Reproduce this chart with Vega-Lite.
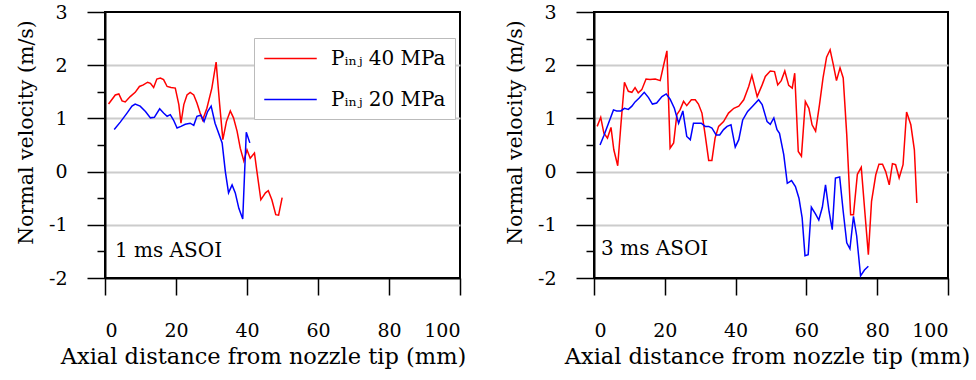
{
  "$schema": "https://vega.github.io/schema/vega-lite/v6.json",
  "background": "white",
  "padding": {"left": 14, "top": 2, "right": 0, "bottom": 0},
  "spacing": 134,
  "bounds": "flush",
  "config": {
    "font": "DejaVu Serif",
    "view": {"stroke": "black", "strokeWidth": 2},
    "axis": {
      "labelFont": "DejaVu Serif",
      "titleFont": "DejaVu Serif",
      "labelFontSize": 19,
      "titleFontSize": 22.5,
      "titleFontWeight": "normal",
      "labelColor": "black",
      "titleColor": "black",
      "domainColor": "black",
      "domainWidth": 2,
      "tickColor": "black",
      "tickWidth": 1.5
    }
  },
  "datasets": {
    "ms1": [
      {"s": "Pᵢₙⱼ 40 MPa", "x": 1.0, "y": 1.27},
      {"s": "Pᵢₙⱼ 40 MPa", "x": 2.9, "y": 1.44},
      {"s": "Pᵢₙⱼ 40 MPa", "x": 3.9, "y": 1.46},
      {"s": "Pᵢₙⱼ 40 MPa", "x": 4.8, "y": 1.33},
      {"s": "Pᵢₙⱼ 40 MPa", "x": 5.7, "y": 1.31},
      {"s": "Pᵢₙⱼ 40 MPa", "x": 7.1, "y": 1.41},
      {"s": "Pᵢₙⱼ 40 MPa", "x": 8.5, "y": 1.49},
      {"s": "Pᵢₙⱼ 40 MPa", "x": 9.7, "y": 1.60},
      {"s": "Pᵢₙⱼ 40 MPa", "x": 10.8, "y": 1.63},
      {"s": "Pᵢₙⱼ 40 MPa", "x": 12.0, "y": 1.68},
      {"s": "Pᵢₙⱼ 40 MPa", "x": 12.8, "y": 1.66},
      {"s": "Pᵢₙⱼ 40 MPa", "x": 13.7, "y": 1.58},
      {"s": "Pᵢₙⱼ 40 MPa", "x": 14.6, "y": 1.74},
      {"s": "Pᵢₙⱼ 40 MPa", "x": 15.6, "y": 1.76},
      {"s": "Pᵢₙⱼ 40 MPa", "x": 16.5, "y": 1.73},
      {"s": "Pᵢₙⱼ 40 MPa", "x": 17.5, "y": 1.60},
      {"s": "Pᵢₙⱼ 40 MPa", "x": 18.6, "y": 1.58},
      {"s": "Pᵢₙⱼ 40 MPa", "x": 19.8, "y": 1.57},
      {"s": "Pᵢₙⱼ 40 MPa", "x": 20.8, "y": 1.26},
      {"s": "Pᵢₙⱼ 40 MPa", "x": 21.4, "y": 0.91},
      {"s": "Pᵢₙⱼ 40 MPa", "x": 22.2, "y": 1.26},
      {"s": "Pᵢₙⱼ 40 MPa", "x": 23.1, "y": 1.44},
      {"s": "Pᵢₙⱼ 40 MPa", "x": 24.0, "y": 1.49},
      {"s": "Pᵢₙⱼ 40 MPa", "x": 25.0, "y": 1.44},
      {"s": "Pᵢₙⱼ 40 MPa", "x": 25.9, "y": 1.29},
      {"s": "Pᵢₙⱼ 40 MPa", "x": 26.8, "y": 1.10},
      {"s": "Pᵢₙⱼ 40 MPa", "x": 27.5, "y": 0.97},
      {"s": "Pᵢₙⱼ 40 MPa", "x": 28.7, "y": 1.19},
      {"s": "Pᵢₙⱼ 40 MPa", "x": 30.1, "y": 1.57},
      {"s": "Pᵢₙⱼ 40 MPa", "x": 31.3, "y": 2.06},
      {"s": "Pᵢₙⱼ 40 MPa", "x": 32.3, "y": 1.26},
      {"s": "Pᵢₙⱼ 40 MPa", "x": 33.2, "y": 0.60},
      {"s": "Pᵢₙⱼ 40 MPa", "x": 34.2, "y": 0.94},
      {"s": "Pᵢₙⱼ 40 MPa", "x": 35.3, "y": 1.14},
      {"s": "Pᵢₙⱼ 40 MPa", "x": 36.2, "y": 1.01},
      {"s": "Pᵢₙⱼ 40 MPa", "x": 37.2, "y": 0.76},
      {"s": "Pᵢₙⱼ 40 MPa", "x": 38.1, "y": 0.44},
      {"s": "Pᵢₙⱼ 40 MPa", "x": 39.1, "y": 0.20},
      {"s": "Pᵢₙⱼ 40 MPa", "x": 40.0, "y": 0.41},
      {"s": "Pᵢₙⱼ 40 MPa", "x": 40.9, "y": 0.25},
      {"s": "Pᵢₙⱼ 40 MPa", "x": 42.1, "y": 0.35},
      {"s": "Pᵢₙⱼ 40 MPa", "x": 42.8, "y": 0.00},
      {"s": "Pᵢₙⱼ 40 MPa", "x": 43.9, "y": -0.53},
      {"s": "Pᵢₙⱼ 40 MPa", "x": 45.2, "y": -0.40},
      {"s": "Pᵢₙⱼ 40 MPa", "x": 46.0, "y": -0.36},
      {"s": "Pᵢₙⱼ 40 MPa", "x": 47.0, "y": -0.53},
      {"s": "Pᵢₙⱼ 40 MPa", "x": 48.1, "y": -0.81},
      {"s": "Pᵢₙⱼ 40 MPa", "x": 48.9, "y": -0.82},
      {"s": "Pᵢₙⱼ 40 MPa", "x": 49.9, "y": -0.49},
      {"s": "Pᵢₙⱼ 20 MPa", "x": 2.6, "y": 0.79},
      {"s": "Pᵢₙⱼ 20 MPa", "x": 4.3, "y": 0.93},
      {"s": "Pᵢₙⱼ 20 MPa", "x": 6.2, "y": 1.10},
      {"s": "Pᵢₙⱼ 20 MPa", "x": 7.6, "y": 1.23},
      {"s": "Pᵢₙⱼ 20 MPa", "x": 8.5, "y": 1.27},
      {"s": "Pᵢₙⱼ 20 MPa", "x": 9.9, "y": 1.23},
      {"s": "Pᵢₙⱼ 20 MPa", "x": 11.4, "y": 1.13},
      {"s": "Pᵢₙⱼ 20 MPa", "x": 12.8, "y": 1.01},
      {"s": "Pᵢₙⱼ 20 MPa", "x": 13.9, "y": 1.02},
      {"s": "Pᵢₙⱼ 20 MPa", "x": 15.4, "y": 1.18},
      {"s": "Pᵢₙⱼ 20 MPa", "x": 16.5, "y": 1.10},
      {"s": "Pᵢₙⱼ 20 MPa", "x": 17.5, "y": 1.04},
      {"s": "Pᵢₙⱼ 20 MPa", "x": 18.4, "y": 1.07},
      {"s": "Pᵢₙⱼ 20 MPa", "x": 19.3, "y": 0.97},
      {"s": "Pᵢₙⱼ 20 MPa", "x": 20.3, "y": 0.82},
      {"s": "Pᵢₙⱼ 20 MPa", "x": 21.4, "y": 0.85},
      {"s": "Pᵢₙⱼ 20 MPa", "x": 22.6, "y": 0.89},
      {"s": "Pᵢₙⱼ 20 MPa", "x": 24.0, "y": 0.91},
      {"s": "Pᵢₙⱼ 20 MPa", "x": 25.0, "y": 0.87},
      {"s": "Pᵢₙⱼ 20 MPa", "x": 25.9, "y": 1.04},
      {"s": "Pᵢₙⱼ 20 MPa", "x": 27.0, "y": 1.06},
      {"s": "Pᵢₙⱼ 20 MPa", "x": 27.9, "y": 0.94},
      {"s": "Pᵢₙⱼ 20 MPa", "x": 28.9, "y": 1.13},
      {"s": "Pᵢₙⱼ 20 MPa", "x": 29.9, "y": 1.23},
      {"s": "Pᵢₙⱼ 20 MPa", "x": 31.0, "y": 0.91},
      {"s": "Pᵢₙⱼ 20 MPa", "x": 33.0, "y": 0.54},
      {"s": "Pᵢₙⱼ 20 MPa", "x": 33.9, "y": 0.00},
      {"s": "Pᵢₙⱼ 20 MPa", "x": 34.8, "y": -0.40},
      {"s": "Pᵢₙⱼ 20 MPa", "x": 35.8, "y": -0.25},
      {"s": "Pᵢₙⱼ 20 MPa", "x": 36.7, "y": -0.40},
      {"s": "Pᵢₙⱼ 20 MPa", "x": 37.7, "y": -0.69},
      {"s": "Pᵢₙⱼ 20 MPa", "x": 38.8, "y": -0.89},
      {"s": "Pᵢₙⱼ 20 MPa", "x": 39.3, "y": -0.06},
      {"s": "Pᵢₙⱼ 20 MPa", "x": 39.8, "y": 0.74},
      {"s": "Pᵢₙⱼ 20 MPa", "x": 40.8, "y": 0.54}
    ],
    "ms3": [
      {"s": "Pᵢₙⱼ 40 MPa", "x": 0.9, "y": 0.85},
      {"s": "Pᵢₙⱼ 40 MPa", "x": 1.9, "y": 1.02},
      {"s": "Pᵢₙⱼ 40 MPa", "x": 2.8, "y": 0.72},
      {"s": "Pᵢₙⱼ 40 MPa", "x": 3.8, "y": 0.63},
      {"s": "Pᵢₙⱼ 40 MPa", "x": 4.8, "y": 0.83},
      {"s": "Pᵢₙⱼ 40 MPa", "x": 5.6, "y": 0.41},
      {"s": "Pᵢₙⱼ 40 MPa", "x": 6.7, "y": 0.11},
      {"s": "Pᵢₙⱼ 40 MPa", "x": 7.6, "y": 0.88},
      {"s": "Pᵢₙⱼ 40 MPa", "x": 8.6, "y": 1.68},
      {"s": "Pᵢₙⱼ 40 MPa", "x": 9.7, "y": 1.51},
      {"s": "Pᵢₙⱼ 40 MPa", "x": 10.7, "y": 1.49},
      {"s": "Pᵢₙⱼ 40 MPa", "x": 11.6, "y": 1.58},
      {"s": "Pᵢₙⱼ 40 MPa", "x": 12.5, "y": 1.48},
      {"s": "Pᵢₙⱼ 40 MPa", "x": 13.5, "y": 1.54},
      {"s": "Pᵢₙⱼ 40 MPa", "x": 14.7, "y": 1.74},
      {"s": "Pᵢₙⱼ 40 MPa", "x": 15.8, "y": 1.73},
      {"s": "Pᵢₙⱼ 40 MPa", "x": 17.3, "y": 1.74},
      {"s": "Pᵢₙⱼ 40 MPa", "x": 18.7, "y": 1.71},
      {"s": "Pᵢₙⱼ 40 MPa", "x": 19.6, "y": 1.98},
      {"s": "Pᵢₙⱼ 40 MPa", "x": 20.6, "y": 2.27},
      {"s": "Pᵢₙⱼ 40 MPa", "x": 21.5, "y": 0.44},
      {"s": "Pᵢₙⱼ 40 MPa", "x": 22.5, "y": 0.54},
      {"s": "Pᵢₙⱼ 40 MPa", "x": 23.4, "y": 1.07},
      {"s": "Pᵢₙⱼ 40 MPa", "x": 24.3, "y": 1.16},
      {"s": "Pᵢₙⱼ 40 MPa", "x": 25.3, "y": 1.32},
      {"s": "Pᵢₙⱼ 40 MPa", "x": 26.2, "y": 1.24},
      {"s": "Pᵢₙⱼ 40 MPa", "x": 27.5, "y": 1.35},
      {"s": "Pᵢₙⱼ 40 MPa", "x": 28.6, "y": 1.35},
      {"s": "Pᵢₙⱼ 40 MPa", "x": 29.5, "y": 1.27},
      {"s": "Pᵢₙⱼ 40 MPa", "x": 30.5, "y": 1.10},
      {"s": "Pᵢₙⱼ 40 MPa", "x": 31.4, "y": 0.69},
      {"s": "Pᵢₙⱼ 40 MPa", "x": 32.4, "y": 0.21},
      {"s": "Pᵢₙⱼ 40 MPa", "x": 33.3, "y": 0.21},
      {"s": "Pᵢₙⱼ 40 MPa", "x": 34.2, "y": 0.63},
      {"s": "Pᵢₙⱼ 40 MPa", "x": 35.2, "y": 0.85},
      {"s": "Pᵢₙⱼ 40 MPa", "x": 36.6, "y": 0.94},
      {"s": "Pᵢₙⱼ 40 MPa", "x": 38.0, "y": 1.10},
      {"s": "Pᵢₙⱼ 40 MPa", "x": 39.5, "y": 1.19},
      {"s": "Pᵢₙⱼ 40 MPa", "x": 40.9, "y": 1.23},
      {"s": "Pᵢₙⱼ 40 MPa", "x": 42.3, "y": 1.35},
      {"s": "Pᵢₙⱼ 40 MPa", "x": 43.7, "y": 1.60},
      {"s": "Pᵢₙⱼ 40 MPa", "x": 44.6, "y": 1.81},
      {"s": "Pᵢₙⱼ 40 MPa", "x": 46.1, "y": 1.41},
      {"s": "Pᵢₙⱼ 40 MPa", "x": 47.5, "y": 1.63},
      {"s": "Pᵢₙⱼ 40 MPa", "x": 48.4, "y": 1.79},
      {"s": "Pᵢₙⱼ 40 MPa", "x": 49.8, "y": 1.89},
      {"s": "Pᵢₙⱼ 40 MPa", "x": 51.0, "y": 1.88},
      {"s": "Pᵢₙⱼ 40 MPa", "x": 51.9, "y": 1.63},
      {"s": "Pᵢₙⱼ 40 MPa", "x": 52.9, "y": 1.71},
      {"s": "Pᵢₙⱼ 40 MPa", "x": 53.9, "y": 1.89},
      {"s": "Pᵢₙⱼ 40 MPa", "x": 55.0, "y": 1.62},
      {"s": "Pᵢₙⱼ 40 MPa", "x": 56.0, "y": 1.57},
      {"s": "Pᵢₙⱼ 40 MPa", "x": 56.7, "y": 1.85},
      {"s": "Pᵢₙⱼ 40 MPa", "x": 57.7, "y": 0.38},
      {"s": "Pᵢₙⱼ 40 MPa", "x": 58.6, "y": 0.29},
      {"s": "Pᵢₙⱼ 40 MPa", "x": 59.7, "y": 1.32},
      {"s": "Pᵢₙⱼ 40 MPa", "x": 60.7, "y": 1.19},
      {"s": "Pᵢₙⱼ 40 MPa", "x": 61.6, "y": 0.88},
      {"s": "Pᵢₙⱼ 40 MPa", "x": 62.6, "y": 0.76},
      {"s": "Pᵢₙⱼ 40 MPa", "x": 63.7, "y": 1.26},
      {"s": "Pᵢₙⱼ 40 MPa", "x": 64.7, "y": 1.76},
      {"s": "Pᵢₙⱼ 40 MPa", "x": 65.7, "y": 2.15},
      {"s": "Pᵢₙⱼ 40 MPa", "x": 66.7, "y": 2.29},
      {"s": "Pᵢₙⱼ 40 MPa", "x": 67.6, "y": 2.01},
      {"s": "Pᵢₙⱼ 40 MPa", "x": 68.5, "y": 1.71},
      {"s": "Pᵢₙⱼ 40 MPa", "x": 69.5, "y": 1.95},
      {"s": "Pᵢₙⱼ 40 MPa", "x": 70.4, "y": 1.76},
      {"s": "Pᵢₙⱼ 40 MPa", "x": 71.4, "y": 0.69},
      {"s": "Pᵢₙⱼ 40 MPa", "x": 72.5, "y": -0.81},
      {"s": "Pᵢₙⱼ 40 MPa", "x": 73.3, "y": -0.81},
      {"s": "Pᵢₙⱼ 40 MPa", "x": 74.4, "y": -0.05},
      {"s": "Pᵢₙⱼ 40 MPa", "x": 75.5, "y": 0.08},
      {"s": "Pᵢₙⱼ 40 MPa", "x": 76.5, "y": -0.75},
      {"s": "Pᵢₙⱼ 40 MPa", "x": 77.5, "y": -1.56},
      {"s": "Pᵢₙⱼ 40 MPa", "x": 78.4, "y": -0.56},
      {"s": "Pᵢₙⱼ 40 MPa", "x": 79.6, "y": -0.06},
      {"s": "Pᵢₙⱼ 40 MPa", "x": 80.5, "y": 0.14},
      {"s": "Pᵢₙⱼ 40 MPa", "x": 81.5, "y": 0.14},
      {"s": "Pᵢₙⱼ 40 MPa", "x": 82.4, "y": 0.00},
      {"s": "Pᵢₙⱼ 40 MPa", "x": 83.4, "y": -0.25},
      {"s": "Pᵢₙⱼ 40 MPa", "x": 84.3, "y": 0.15},
      {"s": "Pᵢₙⱼ 40 MPa", "x": 85.2, "y": 0.13},
      {"s": "Pᵢₙⱼ 40 MPa", "x": 86.2, "y": -0.12},
      {"s": "Pᵢₙⱼ 40 MPa", "x": 87.3, "y": 0.13},
      {"s": "Pᵢₙⱼ 40 MPa", "x": 88.3, "y": 1.12},
      {"s": "Pᵢₙⱼ 40 MPa", "x": 89.5, "y": 0.88},
      {"s": "Pᵢₙⱼ 40 MPa", "x": 90.5, "y": 0.41},
      {"s": "Pᵢₙⱼ 40 MPa", "x": 91.2, "y": -0.59},
      {"s": "Pᵢₙⱼ 20 MPa", "x": 1.7, "y": 0.50},
      {"s": "Pᵢₙⱼ 20 MPa", "x": 2.8, "y": 0.68},
      {"s": "Pᵢₙⱼ 20 MPa", "x": 4.1, "y": 0.91},
      {"s": "Pᵢₙⱼ 20 MPa", "x": 5.5, "y": 1.16},
      {"s": "Pᵢₙⱼ 20 MPa", "x": 6.4, "y": 1.14},
      {"s": "Pᵢₙⱼ 20 MPa", "x": 7.6, "y": 1.14},
      {"s": "Pᵢₙⱼ 20 MPa", "x": 8.6, "y": 1.19},
      {"s": "Pᵢₙⱼ 20 MPa", "x": 9.7, "y": 1.17},
      {"s": "Pᵢₙⱼ 20 MPa", "x": 10.7, "y": 1.23},
      {"s": "Pᵢₙⱼ 20 MPa", "x": 11.6, "y": 1.31},
      {"s": "Pᵢₙⱼ 20 MPa", "x": 12.7, "y": 1.38},
      {"s": "Pᵢₙⱼ 20 MPa", "x": 14.2, "y": 1.49},
      {"s": "Pᵢₙⱼ 20 MPa", "x": 15.4, "y": 1.39},
      {"s": "Pᵢₙⱼ 20 MPa", "x": 16.5, "y": 1.27},
      {"s": "Pᵢₙⱼ 20 MPa", "x": 17.7, "y": 1.29},
      {"s": "Pᵢₙⱼ 20 MPa", "x": 19.2, "y": 1.41},
      {"s": "Pᵢₙⱼ 20 MPa", "x": 20.4, "y": 1.46},
      {"s": "Pᵢₙⱼ 20 MPa", "x": 21.5, "y": 1.36},
      {"s": "Pᵢₙⱼ 20 MPa", "x": 22.7, "y": 1.19},
      {"s": "Pᵢₙⱼ 20 MPa", "x": 23.9, "y": 0.91},
      {"s": "Pᵢₙⱼ 20 MPa", "x": 25.1, "y": 1.14},
      {"s": "Pᵢₙⱼ 20 MPa", "x": 26.2, "y": 0.66},
      {"s": "Pᵢₙⱼ 20 MPa", "x": 27.2, "y": 0.60},
      {"s": "Pᵢₙⱼ 20 MPa", "x": 28.1, "y": 0.91},
      {"s": "Pᵢₙⱼ 20 MPa", "x": 30.3, "y": 0.91},
      {"s": "Pᵢₙⱼ 20 MPa", "x": 31.4, "y": 0.85},
      {"s": "Pᵢₙⱼ 20 MPa", "x": 32.4, "y": 0.85},
      {"s": "Pᵢₙⱼ 20 MPa", "x": 33.3, "y": 0.82},
      {"s": "Pᵢₙⱼ 20 MPa", "x": 34.5, "y": 0.69},
      {"s": "Pᵢₙⱼ 20 MPa", "x": 35.5, "y": 0.69},
      {"s": "Pᵢₙⱼ 20 MPa", "x": 36.6, "y": 0.79},
      {"s": "Pᵢₙⱼ 20 MPa", "x": 37.6, "y": 0.85},
      {"s": "Pᵢₙⱼ 20 MPa", "x": 38.7, "y": 0.88},
      {"s": "Pᵢₙⱼ 20 MPa", "x": 39.9, "y": 0.46},
      {"s": "Pᵢₙⱼ 20 MPa", "x": 40.9, "y": 0.60},
      {"s": "Pᵢₙⱼ 20 MPa", "x": 42.0, "y": 0.97},
      {"s": "Pᵢₙⱼ 20 MPa", "x": 43.4, "y": 1.13},
      {"s": "Pᵢₙⱼ 20 MPa", "x": 44.8, "y": 1.23},
      {"s": "Pᵢₙⱼ 20 MPa", "x": 46.5, "y": 1.35},
      {"s": "Pᵢₙⱼ 20 MPa", "x": 47.5, "y": 1.26},
      {"s": "Pᵢₙⱼ 20 MPa", "x": 48.9, "y": 0.94},
      {"s": "Pᵢₙⱼ 20 MPa", "x": 49.8, "y": 0.89},
      {"s": "Pᵢₙⱼ 20 MPa", "x": 50.8, "y": 1.01},
      {"s": "Pᵢₙⱼ 20 MPa", "x": 51.7, "y": 0.79},
      {"s": "Pᵢₙⱼ 20 MPa", "x": 52.4, "y": 0.72},
      {"s": "Pᵢₙⱼ 20 MPa", "x": 53.6, "y": 0.32},
      {"s": "Pᵢₙⱼ 20 MPa", "x": 54.6, "y": -0.22},
      {"s": "Pᵢₙⱼ 20 MPa", "x": 55.8, "y": -0.17},
      {"s": "Pᵢₙⱼ 20 MPa", "x": 56.9, "y": -0.28},
      {"s": "Pᵢₙⱼ 20 MPa", "x": 57.9, "y": -0.50},
      {"s": "Pᵢₙⱼ 20 MPa", "x": 58.8, "y": -0.87},
      {"s": "Pᵢₙⱼ 20 MPa", "x": 59.6, "y": -1.58},
      {"s": "Pᵢₙⱼ 20 MPa", "x": 60.5, "y": -1.56},
      {"s": "Pᵢₙⱼ 20 MPa", "x": 61.4, "y": -0.67},
      {"s": "Pᵢₙⱼ 20 MPa", "x": 62.6, "y": -0.80},
      {"s": "Pᵢₙⱼ 20 MPa", "x": 63.5, "y": -0.91},
      {"s": "Pᵢₙⱼ 20 MPa", "x": 64.5, "y": -0.67},
      {"s": "Pᵢₙⱼ 20 MPa", "x": 65.4, "y": -0.25},
      {"s": "Pᵢₙⱼ 20 MPa", "x": 66.4, "y": -0.75},
      {"s": "Pᵢₙⱼ 20 MPa", "x": 67.3, "y": -1.09},
      {"s": "Pᵢₙⱼ 20 MPa", "x": 68.2, "y": -0.12},
      {"s": "Pᵢₙⱼ 20 MPa", "x": 69.4, "y": -0.10},
      {"s": "Pᵢₙⱼ 20 MPa", "x": 70.4, "y": -0.75},
      {"s": "Pᵢₙⱼ 20 MPa", "x": 71.4, "y": -1.34},
      {"s": "Pᵢₙⱼ 20 MPa", "x": 72.3, "y": -1.45},
      {"s": "Pᵢₙⱼ 20 MPa", "x": 73.3, "y": -0.84},
      {"s": "Pᵢₙⱼ 20 MPa", "x": 74.2, "y": -1.21},
      {"s": "Pᵢₙⱼ 20 MPa", "x": 75.3, "y": -1.96},
      {"s": "Pᵢₙⱼ 20 MPa", "x": 76.4, "y": -1.85},
      {"s": "Pᵢₙⱼ 20 MPa", "x": 77.5, "y": -1.78}
    ]
  },
  "hconcat": [
    {
      "width": 355,
      "height": 266,
      "resolve": {"axis": {"y": "independent"}},
      "layer": [
        {
          "data": {"name": "ms1"},
          "mark": {"type": "line", "strokeWidth": 1.5},
          "encoding": {
            "x": {
              "field": "x", "type": "quantitative",
              "scale": {"domain": [0, 100], "nice": false},
              "axis": {
                "title": "Axial distance from nozzle tip (mm)",
                "values": [0, 10, 20, 30, 40, 50, 60, 70, 80, 90, 100],
                "labelExpr": "datum.value % 20 === 0 ? datum.label : ''",
                "tickSize": {"condition": {"test": "datum.value % 20 === 0", "value": 17}, "value": 9},
                "labelPadding": 26,
                "titlePadding": 5,
                "titleX": 158,
                "grid": false
              }
            },
            "y": {
              "field": "y", "type": "quantitative",
              "scale": {"domain": [-2, 3], "nice": false},
              "axis": {
                "orient": "left",
                "title": "Normal velocity (m/s)",
                "titleFontSize": 20.5,
                "values": [-2, -1, 0, 1, 2, 3],
                "labelExpr": "replace(datum.label, '−', '-')",
                "tickSize": 18,
                "labelPadding": 20,
                "titleX": -79,
                "titleBaseline": "middle",
                "titleY": 120,
                "grid": true,
                "gridColor": "#cccccc",
                "gridWidth": 2,
                "gridOpacity": {"condition": {"test": "datum.value > -2 && datum.value < 3", "value": 1}, "value": 0}
              }
            },
            "color": {
              "field": "s", "type": "nominal",
              "scale": {"domain": ["Pᵢₙⱼ 40 MPa", "Pᵢₙⱼ 20 MPa"], "range": ["#ff0000", "#0000ff"]},
              "legend": {
                "orient": "none",
                "legendX": 149,
                "legendY": 26,
                "title": null,
                "direction": "vertical",
                "strokeColor": "#bbbbbb",
                "fillColor": "white",
                "padding": 9,
                "symbolType": "M-2.5,0L2.5,0",
                "symbolSize": 441,
                "symbolOffset": 16,
                "symbolStrokeWidth": 1.5,
                "labelFont": "DejaVu Serif",
                "labelFontSize": 20,
                "labelColor": "black",
                "labelOffset": 29,
                "rowPadding": 19
              }
            }
          }
        },
        {
          "data": {"values": [{"label": "1 ms ASOI", "x": 2.8, "y": -1.5}]},
          "mark": {"type": "text", "align": "left", "baseline": "middle", "fontSize": 20, "font": "DejaVu Serif", "color": "black"},
          "encoding": {
            "x": {"field": "x", "type": "quantitative"},
            "y": {
              "field": "y", "type": "quantitative",
              "axis": {
                "orient": "left",
                "title": null,
                "values": [-1.5, -0.5, 0.5, 1.5, 2.5],
                "labels": false,
                "domain": false,
                "grid": false,
                "tickSize": 8
              }
            },
            "text": {"field": "label"}
          }
        }
      ]
    },
    {
      "width": 354,
      "height": 266,
      "resolve": {"axis": {"y": "independent"}},
      "layer": [
        {
          "data": {"name": "ms3"},
          "mark": {"type": "line", "strokeWidth": 1.5},
          "encoding": {
            "x": {
              "field": "x", "type": "quantitative",
              "scale": {"domain": [0, 100], "nice": false},
              "axis": {
                "title": "Axial distance from nozzle tip (mm)",
                "values": [0, 10, 20, 30, 40, 50, 60, 70, 80, 90, 100],
                "labelExpr": "datum.value % 20 === 0 ? datum.label : ''",
                "tickSize": {"condition": {"test": "datum.value % 20 === 0", "value": 17}, "value": 9},
                "labelPadding": 26,
                "titlePadding": 5,
                "titleX": 173,
                "grid": false
              }
            },
            "y": {
              "field": "y", "type": "quantitative",
              "scale": {"domain": [-2, 3], "nice": false},
              "axis": {
                "orient": "left",
                "title": "Normal velocity (m/s)",
                "titleFontSize": 20.5,
                "values": [-2, -1, 0, 1, 2, 3],
                "labelExpr": "replace(datum.label, '−', '-')",
                "tickSize": 18,
                "labelPadding": 20,
                "titleX": -79,
                "titleBaseline": "middle",
                "titleY": 120,
                "grid": true,
                "gridColor": "#cccccc",
                "gridWidth": 2,
                "gridOpacity": {"condition": {"test": "datum.value > -2 && datum.value < 3", "value": 1}, "value": 0}
              }
            },
            "color": {
              "field": "s", "type": "nominal",
              "scale": {"domain": ["Pᵢₙⱼ 40 MPa", "Pᵢₙⱼ 20 MPa"], "range": ["#ff0000", "#0000ff"]},
              "legend": null
            }
          }
        },
        {
          "data": {"values": [{"label": "3 ms ASOI", "x": 2.0, "y": -1.45}]},
          "mark": {"type": "text", "align": "left", "baseline": "middle", "fontSize": 20, "font": "DejaVu Serif", "color": "black"},
          "encoding": {
            "x": {"field": "x", "type": "quantitative"},
            "y": {
              "field": "y", "type": "quantitative",
              "axis": {
                "orient": "left",
                "title": null,
                "values": [-1.5, -0.5, 0.5, 1.5, 2.5],
                "labels": false,
                "domain": false,
                "grid": false,
                "tickSize": 8
              }
            },
            "text": {"field": "label"}
          }
        }
      ]
    }
  ],
  "resolve": {"legend": {"color": "independent"}, "scale": {"color": "independent"}}
}
